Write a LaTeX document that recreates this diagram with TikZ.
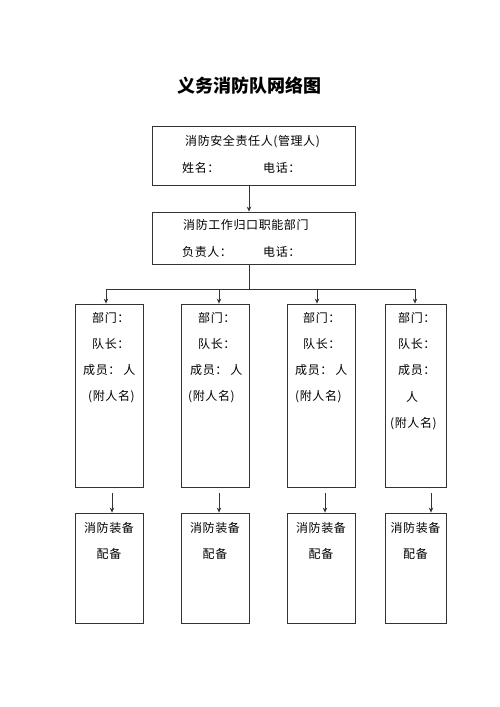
\documentclass[tikz,border=0pt]{standalone}
\usepackage{fontspec}
\setmainfont{Noto Sans CJK SC}
\usetikzlibrary{arrows.meta}

\begin{document}
\begin{tikzpicture}[x=1pt,y=-1pt]
        \tikzset{box/.style={draw=black!80,line width=0.8pt,inner sep=0pt},
                 body/.style={inner sep=0pt,font=\fontsize{12}{12}\selectfont\addfontfeature{LetterSpace=5}},
                 txt/.style={body,anchor=west},
                 drop/.style={-{Stealth[length=5pt,width=4.5pt]},draw=black!80,line width=0.8pt}}
        \useasboundingbox (0,0) rectangle (500,707);
        \node[font=\bfseries\fontsize{18}{18}\selectfont] (title) at (249,86) {义务消防队网络图};
        % top two boxes
        \node[box,minimum width=203pt,minimum height=59pt] (resp) at (253.5,155.5) {};
        \node[txt] (respA) at (185,142) {消防安全责任人(管理人)};
        \node[txt] (respB) at (182,168) {姓名：};
        \node[txt] (respC) at (263,168) {电话：};
        \node[box,minimum width=203pt,minimum height=52pt] (dept) at (253.5,238) {};
        \node[txt] (deptA) at (183,225) {消防工作归口职能部门};
        \node[txt] (deptB) at (182,252) {负责人：};
        \node[txt] (deptC) at (263,252) {电话：};
        \draw[drop] ([xshift=-4.5pt]resp.south) -- ([xshift=-4.5pt]dept.north);
        % team boxes
        \node[box,minimum width=68pt,minimum height=183pt] (teamA) at (109,395.5) {};
        \node[box,minimum width=68pt,minimum height=183pt] (teamB) at (215,395.5) {};
        \node[box,minimum width=68pt,minimum height=183pt] (teamC) at (321,395.5) {};
        \node[box,minimum width=61pt,minimum height=183pt] (teamD) at (415.5,395.5) {};
        \coordinate (bus) at (249,289);
        \coordinate (jA) at (106,289);
        \coordinate (jB) at (219,289);
        \coordinate (jC) at (317,289);
        \coordinate (jD) at (415,289);
        \draw[draw=black!80,line width=0.8pt] ([xshift=-4.5pt]dept.south) -- (bus);
        \draw[draw=black!80,line width=0.8pt] (jA) -- (jD);
        \draw[drop] (jA) -- (jA |- teamA.north);
        \draw[drop] (jB) -- (jB |- teamB.north);
        \draw[drop] (jC) -- (jC |- teamC.north);
        \draw[drop] (jD) -- (jD |- teamD.north);
        % team texts
        \node[txt] (a1) at (92,318) {部门：};
        \node[txt] (a2) at (92,344) {队长：};
        \node[txt] (a3) at (83,370) {成员：\hspace{3pt}人};
        \node[txt] (a4) at (88,397) {(附人名)};
        \node[txt] (b1) at (198,318) {部门：};
        \node[txt] (b2) at (198,344) {队长：};
        \node[txt] (b3) at (190,370) {成员：\hspace{3pt}人};
        \node[txt] (b4) at (188,397) {(附人名)};
        \node[txt] (c1) at (303,318) {部门：};
        \node[txt] (c2) at (303,344) {队长：};
        \node[txt] (c3) at (295,370) {成员：\hspace{3pt}人};
        \node[txt] (c4) at (295,397) {(附人名)};
        \node[txt] (d1) at (398,318) {部门：};
        \node[txt] (d2) at (398,344) {队长：};
        \node[txt] (d3) at (398,370) {成员：};
        \node[txt] (d4) at (406,397) {人};
        \node[txt] (d5) at (390,424) {(附人名)};
        % equipment boxes
        \node[box,minimum width=68pt,minimum height=110pt] (equA) at (109,568) {};
        \node[box,minimum width=68pt,minimum height=110pt] (equB) at (215,568) {};
        \node[box,minimum width=68pt,minimum height=110pt] (equC) at (321,568) {};
        \node[box,minimum width=61pt,minimum height=110pt] (equD) at (415.5,568) {};
        \draw[drop] ([xshift=3pt,yshift=-6pt]teamA.south) -- ([xshift=3pt]equA.north);
        \draw[drop] ([xshift=4pt,yshift=-6pt]teamB.south) -- ([xshift=4pt]equB.north);
        \draw[drop] ([xshift=4pt,yshift=-6pt]teamC.south) -- ([xshift=4pt]equC.north);
        \draw[drop] ([xshift=15.5pt,yshift=-6pt]teamD.south) -- ([xshift=15.5pt]equD.north);
        \foreach \e in {equA,equB,equC,equD} {
            \node[body] (\e top) at ([yshift=-15pt]\e.north) {消防装备};
            \node[body] (\e bot) at ([yshift=-41pt]\e.north) {配备};
        }
    \end{tikzpicture}
\end{document}
